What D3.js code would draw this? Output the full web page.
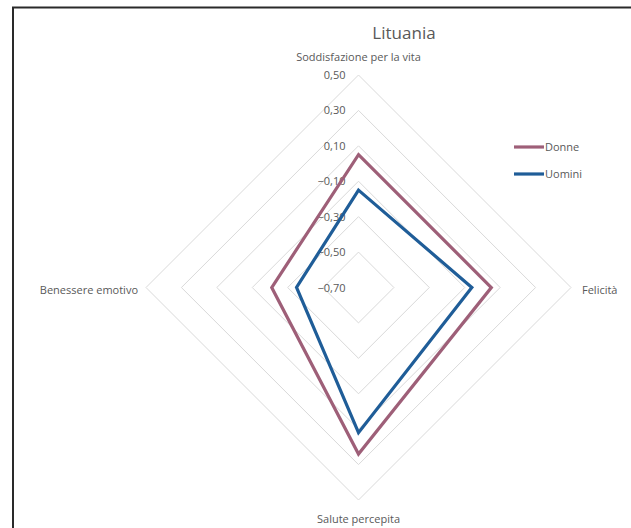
<!DOCTYPE html>
<html><head><meta charset="utf-8">
<script src="https://cdn.jsdelivr.net/npm/d3@7"></script>
<style>body{margin:0;background:#fff;}svg{display:block;font-family:"Open Sans",sans-serif;}</style>
</head><body><svg id="c" width="631" height="528"></svg>
<script>
const axes = ["Soddisfazione per la vita", "Felicità", "Salute percepita", "Benessere emotivo"];
const donne = [0.05, 0.05, 0.24, -0.21];
const uomini = [-0.15, -0.06, 0.12, -0.35];
const ticks = [-0.70, -0.50, -0.30, -0.10, 0.10, 0.30, 0.50];
const seriesNames = ["Donne", "Uomini"];
const colors = ["#9E5F78", "#1F5D98"];

const svg = d3.select("#c");
const cx = 358.5, cy = 287.5, R = 212.5;
const r = d3.scaleLinear().domain([-0.70, 0.50]).range([0, R]);
const ang = d3.scaleLinear().domain([0, axes.length]).range([0, 2 * Math.PI]);
const pt = (i, v) => [cx + r(v) * Math.sin(ang(i)), cy - r(v) * Math.cos(ang(i))];

// frame
svg.append("path").attr("d", "M13,531 L13,7.5 L640,7.5").attr("fill", "none").attr("stroke", "#2a2a2a").attr("stroke-width", 2);

// grid
const g = svg.append("g");
ticks.forEach(t => {
  if (r(t) <= 0) return;
  g.append("polygon")
    .attr("points", axes.map((a, i) => pt(i, t).join(",")).join(" "))
    .attr("fill", "none").attr("stroke", "#d9d9d9").attr("stroke-width", 1);
});

// tick labels
ticks.forEach(t => {
  g.append("text").attr("x", cx - 13).attr("y", cy - r(t) + 4)
    .attr("text-anchor", "end").attr("font-size", 11).attr("fill", "#595959")
    .text(d3.format(".2f")(t).replace(".", ",").replace("-", "-"));
});

// series
const line = d3.line().curve(d3.curveLinearClosed);
[donne, uomini].forEach((vals, k) => {
  svg.append("path").attr("d", line(vals.map((v, i) => pt(i, v))))
    .attr("fill", "none").attr("stroke", colors[k]).attr("stroke-width", 3.2)
    .attr("stroke-linejoin", "miter");
});

// axis labels
const lab = svg.append("g").attr("font-size", 11).attr("fill", "#595959");
lab.append("text").attr("x", cx).attr("y", 61).attr("text-anchor", "middle").text(axes[0]);
lab.append("text").attr("x", 582).attr("y", cy + 6).attr("text-anchor", "start").text(axes[1]);
lab.append("text").attr("x", cx).attr("y", 523).attr("text-anchor", "middle").text(axes[2]);
lab.append("text").attr("x", 138).attr("y", cy + 6).attr("text-anchor", "end").text(axes[3]);

// title
svg.append("text").attr("x", 404).attr("y", 39).attr("text-anchor", "middle")
  .attr("font-size", 17).attr("fill", "#595959").text("Lituania");

// legend
seriesNames.forEach((n, k) => {
  const y = 147 + k * 27;
  svg.append("line").attr("x1", 514).attr("x2", 544).attr("y1", y).attr("y2", y)
    .attr("stroke", colors[k]).attr("stroke-width", 3.2);
  svg.append("text").attr("x", 545).attr("y", y + 4).attr("font-size", 11).attr("fill", "#595959").text(n);
});
</script></body></html>
